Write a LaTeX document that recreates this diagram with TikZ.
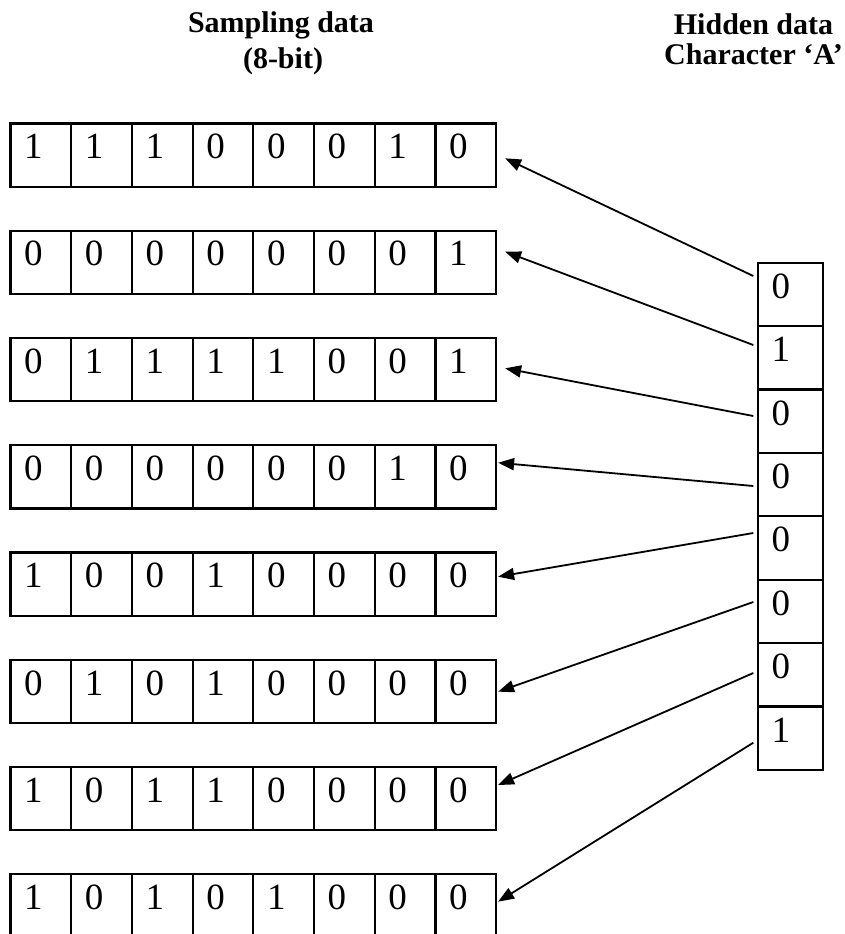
\documentclass[tikz,border=0pt]{standalone}
\usepackage{fontspec}
\setmainfont{Liberation Serif}
\usetikzlibrary{arrows.meta}
\begin{document}
\begin{tikzpicture}[x=1pt,y=-1pt,
  bitcell/.style={draw=black, line width=2.2pt, rectangle, inner sep=0pt, outer sep=0pt,
    minimum width=60.7pt, minimum height=63.3pt, anchor=north west},
  hidcell/.style={bitcell, minimum width=64.4pt, minimum height=63.4pt},
  digit/.style={font=\fontsize{37}{40}\selectfont, inner sep=0pt, anchor=base west},
  header/.style={font=\fontsize{30}{30}\selectfont\bfseries, inner sep=0pt, anchor=base},
  link/.style={line width=1.8pt, -{Triangle[length=16pt,width=12pt]}}
]
\clip (0,0) rectangle (845,934);

% column headings
\node[header] (samp1) at (281,33) {Sampling data};
\node[header] (samp2) at (283,68) {(8-bit)};
\node[header] (hid1) at (753.5,35) {Hidden data};
\node[header] (hid2) at (753.5,65) {Character ‘A’};

% eight 8-bit samples
\foreach \bits [count=\r] in {{1,1,1,0,0,0,1,0},{0,0,0,0,0,0,0,1},{0,1,1,1,1,0,0,1},
    {0,0,0,0,0,0,1,0},{1,0,0,1,0,0,0,0},{0,1,0,1,0,0,0,0},{1,0,1,1,0,0,0,0},{1,0,1,0,1,0,0,0}} {
  \foreach \b [count=\c] in \bits {
    \node[bitcell] (r\r-\c) at ({10.5+(\c-1)*60.7},{123.4+(\r-1)*107.27}) {};
    \node[digit] (d\r-\c) at ([shift={(13.5,35.3)}]r\r-\c.north west) {\b};
  }
}

% hidden character bits
\foreach \b [count=\k] in {0,1,0,0,0,0,0,1} {
  \node[hidcell] (h\k) at (758.3,{262.7+(\k-1)*63.4}) {};
  \node[digit] (hd\k) at ([shift={(13,35.5)}]h\k.north west) {\b};
}

% arrows from each hidden bit to the sample carrying it
\foreach \k/\sy/\tx/\ty in {1/13.3/9/34.9, 2/18.9/9/21, 3/26.5/9/30.4, 4/33.1/2/17.5,
    5/16.7/2/24.2, 6/22.3/2/31.9, 7/29.9/2/18, 8/36.2/2/27.4} {
  \coordinate (s\k) at ([shift={(-5,\sy)}]h\k.north west);
  \coordinate (t\k) at ([shift={(\tx,\ty)}]r\k-8.north east);
  \draw[link] (s\k) -- (t\k);
}
\end{tikzpicture}
\end{document}
